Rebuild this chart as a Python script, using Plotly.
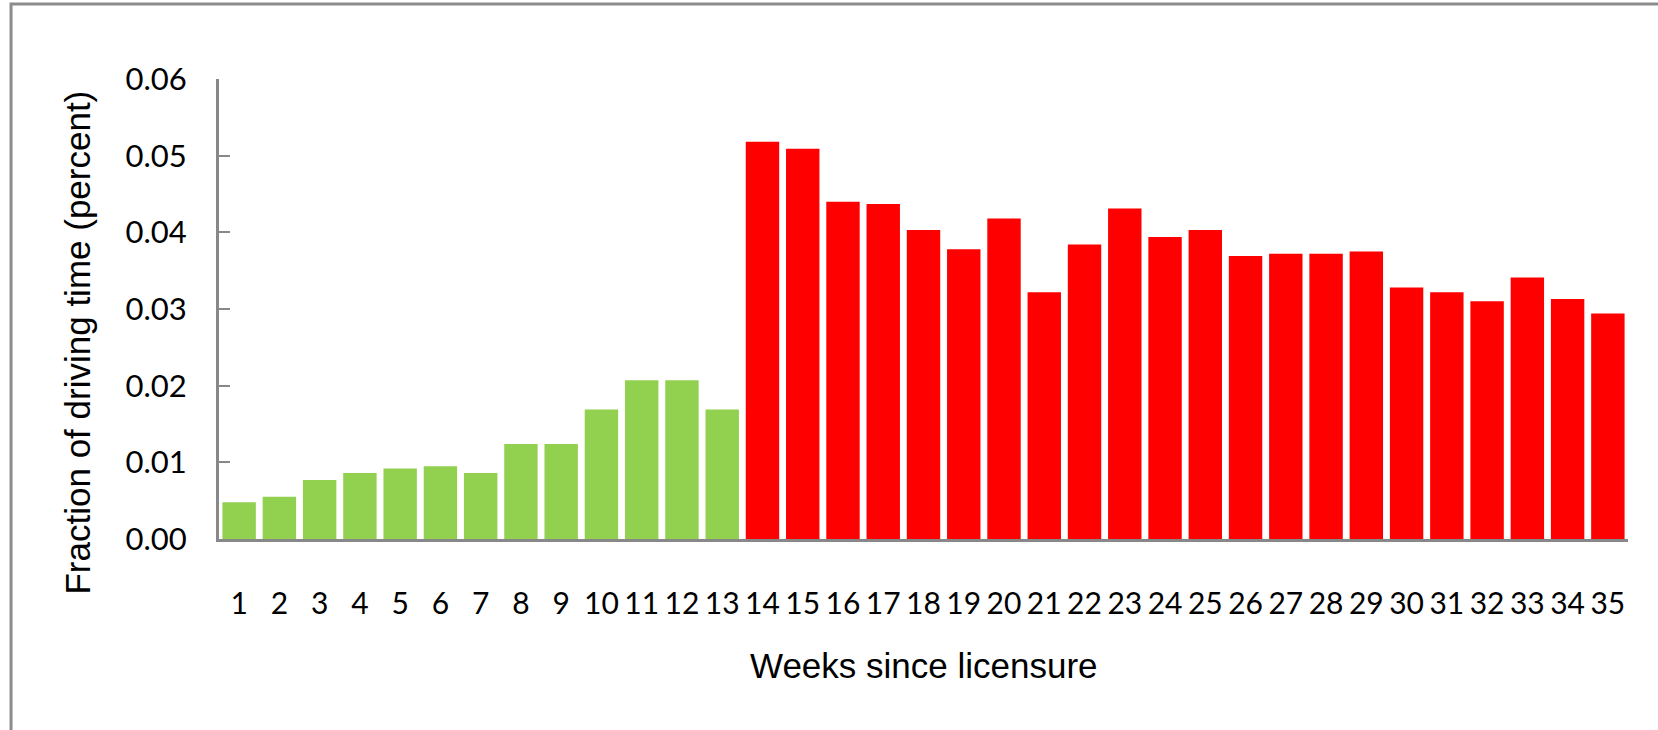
import plotly.graph_objects as go

# Weeks since licensure (category labels)
weeks = ["1", "2", "3", "4", "5", "6", "7", "8", "9", "10", "11", "12",
         "13", "14", "15", "16", "17", "18", "19", "20", "21", "22", "23",
         "24", "25", "26", "27", "28", "29", "30", "31", "32", "33", "34", "35"]

# Fraction of driving time per week
early_fraction = [0.0048, 0.0055, 0.0077, 0.0086, 0.0092, 0.0095, 0.0086,
                  0.0124, 0.0124, 0.0169, 0.0207, 0.0207, 0.0169]
later_fraction = [0.0518, 0.0509, 0.0440, 0.0437, 0.0403, 0.0378, 0.0418,
                  0.0322, 0.0384, 0.0431, 0.0394, 0.0403, 0.0369, 0.0372,
                  0.0372, 0.0375, 0.0328, 0.0322, 0.0310, 0.0341, 0.0313,
                  0.0294]

y_ticks = [0.0, 0.01, 0.02, 0.03, 0.04, 0.05, 0.06]

GREEN = "#92D050"
RED = "#FF0000"
AXIS_GRAY = "#888888"
TICK_FONT = "Lato, 'Open Sans', sans-serif"
TITLE_FONT = "'Liberation Sans', Arial, sans-serif"

n_early = len(early_fraction)

fig = go.Figure()
fig.add_trace(go.Bar(
    x=weeks[:n_early],
    y=early_fraction,
    marker=dict(color=GREEN, line=dict(width=0)),
    showlegend=False,
))
fig.add_trace(go.Bar(
    x=weeks[n_early:],
    y=later_fraction,
    marker=dict(color=RED, line=dict(width=0)),
    showlegend=False,
))

fig.update_layout(
    width=1658,
    height=730,
    margin=dict(l=219, r=30, t=79, b=191),
    plot_bgcolor="white",
    paper_bgcolor="white",
    bargap=0.17,
    barmode="group",
    font=dict(family=TICK_FONT, size=30, color="black"),
    annotations=[
        dict(
            text="Weeks since licensure",
            xref="paper", yref="paper",
            x=0.5, y=-0.274,
            xanchor="center", yanchor="middle",
            showarrow=False,
            font=dict(family=TITLE_FONT, size=35, color="black"),
        ),
        dict(
            text="Fraction of driving time (percent)",
            xref="paper", yref="paper",
            x=-0.1005, y=0.428,
            xanchor="center", yanchor="middle",
            textangle=-90,
            showarrow=False,
            font=dict(family=TITLE_FONT, size=35, color="black"),
        ),
    ],
    shapes=[
        # outer chart-area frame (runs off the right and bottom edges)
        dict(
            type="rect", xref="paper", yref="paper",
            x0=-0.1476, x1=1.2, y0=-0.6, y1=1.163,
            line=dict(color="#8c8c8c", width=3),
            fillcolor="rgba(0,0,0,0)",
            layer="below",
        ),
    ],
)

fig.update_xaxes(
    type="category",
    categoryorder="array",
    categoryarray=weeks,
    range=[-0.5, len(weeks) - 0.5],
    showline=True,
    linecolor=AXIS_GRAY,
    linewidth=3,
    ticks="",
    showgrid=False,
    zeroline=False,
    ticklabelstandoff=36,
    tickfont=dict(family=TICK_FONT, size=30, color="black"),
)

fig.update_yaxes(
    range=[0, 0.06],
    tickvals=y_ticks,
    tickformat=".2f",
    showline=True,
    linecolor=AXIS_GRAY,
    linewidth=3,
    ticks="inside",
    ticklen=11,
    tickwidth=2,
    tickcolor=AXIS_GRAY,
    showgrid=False,
    zeroline=False,
    ticklabelstandoff=23,
    tickfont=dict(family=TICK_FONT, size=31, color="black"),
)

# drop the default page margin so the figure sits at the window's corner
fig.write_html(
    "out.html",
    config={"displayModeBar": False},
    post_script="document.body.style.margin = '0';",
)
